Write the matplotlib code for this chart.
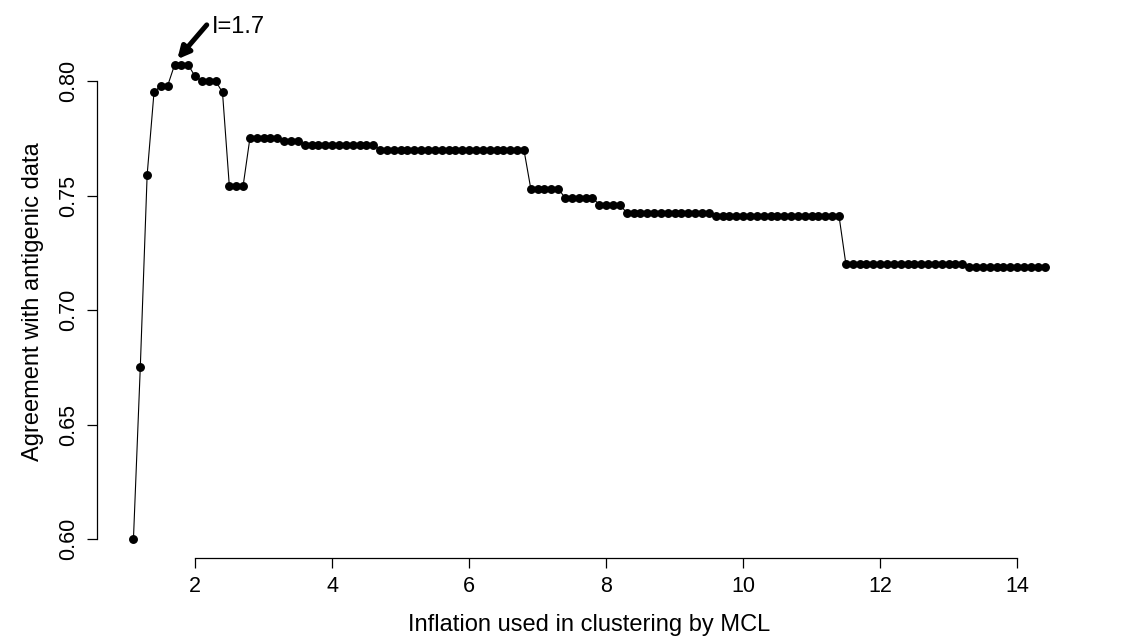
import matplotlib
matplotlib.use('Agg')
import matplotlib.pyplot as plt
import numpy as np

plt.rcParams['font.family'] = ['Liberation Sans', 'DejaVu Sans']

# inflation values used for MCL
inflation = [1.1, 1.2, 1.3, 1.4, 1.5, 1.6, 1.7, 1.8, 1.9, 2.0,
             2.1, 2.2, 2.3, 2.4, 2.5, 2.6, 2.7, 2.8, 2.9, 3.0,
             3.1, 3.2, 3.3, 3.4, 3.5, 3.6, 3.7, 3.8, 3.9, 4.0,
             4.1, 4.2, 4.3, 4.4, 4.5, 4.6, 4.7, 4.8, 4.9, 5.0,
             5.1, 5.2, 5.3, 5.4, 5.5, 5.6, 5.7, 5.8, 5.9, 6.0,
             6.1, 6.2, 6.3, 6.4, 6.5, 6.6, 6.7, 6.8, 6.9, 7.0,
             7.1, 7.2, 7.3, 7.4, 7.5, 7.6, 7.7, 7.8, 7.9, 8.0,
             8.1, 8.2, 8.3, 8.4, 8.5, 8.6, 8.7, 8.8, 8.9, 9.0,
             9.1, 9.2, 9.3, 9.4, 9.5, 9.6, 9.7, 9.8, 9.9, 10.0,
             10.1, 10.2, 10.3, 10.4, 10.5, 10.6, 10.7, 10.8, 10.9, 11.0,
             11.1, 11.2, 11.3, 11.4, 11.5, 11.6, 11.7, 11.8, 11.9, 12.0,
             12.1, 12.2, 12.3, 12.4, 12.5, 12.6, 12.7, 12.8, 12.9, 13.0,
             13.1, 13.2, 13.3, 13.4, 13.5, 13.6, 13.7, 13.8, 13.9, 14.0,
             14.1, 14.2, 14.3, 14.4]

# agreement with antigenic data
agreement = [0.600, 0.675, 0.759, 0.795, 0.798, 0.798, 0.807, 0.807, 0.807, 0.802,
             0.800, 0.800, 0.800, 0.795, 0.754, 0.754, 0.754, 0.775, 0.775, 0.775,
             0.775, 0.775, 0.774, 0.774, 0.774, 0.772, 0.772, 0.772, 0.772, 0.772,
             0.772, 0.772, 0.772, 0.772, 0.772, 0.772, 0.770, 0.770, 0.770, 0.770,
             0.770, 0.770, 0.770, 0.770, 0.770, 0.770, 0.770, 0.770, 0.770, 0.770,
             0.770, 0.770, 0.770, 0.770, 0.770, 0.770, 0.770, 0.770, 0.753, 0.753,
             0.753, 0.753, 0.753, 0.749, 0.749, 0.749, 0.749, 0.749, 0.746, 0.746,
             0.746, 0.746, 0.7425, 0.7425, 0.7425, 0.7425, 0.7425, 0.7425, 0.7425, 0.7425,
             0.7425, 0.7425, 0.7425, 0.7425, 0.7425, 0.741, 0.741, 0.741, 0.741, 0.741,
             0.741, 0.741, 0.741, 0.741, 0.741, 0.741, 0.741, 0.741, 0.741, 0.741,
             0.741, 0.741, 0.741, 0.741, 0.720, 0.720, 0.720, 0.720, 0.720, 0.720,
             0.720, 0.720, 0.720, 0.720, 0.720, 0.720, 0.720, 0.720, 0.720, 0.720,
             0.720, 0.720, 0.719, 0.719, 0.719, 0.719, 0.719, 0.719, 0.719, 0.719,
             0.719, 0.719, 0.719, 0.719]

best_I = 1.7
best_label = 'I=1.7'

x_ticks = [2, 4, 6, 8, 10, 12, 14]
y_ticks = [0.60, 0.65, 0.70, 0.75, 0.80]

W, H = 1121, 642
fig = plt.figure(figsize=(W / 100, H / 100), dpi=100)
left, right = 97.0, 1081.0
bottom, top = 558.0, 46.0
ax = fig.add_axes([left / W, (H - bottom) / H, (right - left) / W, (bottom - top) / H])

ax.plot(inflation, agreement, '-', color='black', lw=0.8, zorder=2)
ax.plot(inflation, agreement, 'o', color='black', ms=5.4, zorder=3)

# R style 4% padding
xr = max(inflation) - min(inflation)
yr = max(agreement) - min(agreement)
ax.set_xlim(min(inflation) - 0.04 * xr, max(inflation) + 0.04 * xr)
ax.set_ylim(min(agreement) - 0.04 * yr, max(agreement) + 0.04 * yr)

ax.spines['top'].set_visible(False)
ax.spines['right'].set_visible(False)
ax.spines['left'].set_bounds(y_ticks[0], y_ticks[-1])
ax.spines['bottom'].set_bounds(x_ticks[0], x_ticks[-1])
for s in ('left', 'bottom'):
    ax.spines[s].set_linewidth(0.9)

ax.set_xticks(x_ticks)
ax.set_yticks(y_ticks)
ax.set_yticklabels(['%.2f' % v for v in y_ticks], rotation=90, va='center')
ax.tick_params(axis='both', direction='out', length=7, width=0.9, labelsize=15.5, pad=6)

ax.set_xlabel('Inflation used in clustering by MCL', fontsize=17, labelpad=12)
ax.set_ylabel('Agreement with antigenic data', fontsize=17, labelpad=10)

# arrow pointing at the best inflation value
best_y = agreement[inflation.index(best_I)]
ax.annotate('', xy=(best_I + 0.04, best_y + 0.0025), xytext=(best_I + 0.47, best_y + 0.0175),
            arrowprops=dict(arrowstyle='-|>,head_length=0.7,head_width=0.35', color='black',
                            lw=3.6, shrinkA=0, shrinkB=0),
            annotation_clip=False)
ax.text(best_I + 0.54, best_y + 0.0167, best_label, fontsize=17, ha='left', va='center',
        clip_on=False)

fig.savefig('out.png', dpi=100)
